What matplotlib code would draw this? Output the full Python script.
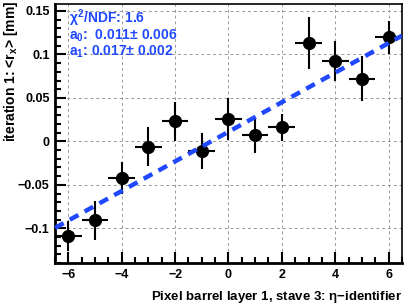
import matplotlib
matplotlib.use("Agg")
import matplotlib.pyplot as plt
import numpy as np
from matplotlib.ticker import MultipleLocator

eta = [-6, -5, -4, -3, -2, -1, 0, 1, 2, 3, 4, 5, 6]
rx = [-0.109, -0.091, -0.042, -0.006, 0.023, -0.011, 0.026, 0.007, 0.016, 0.1135, 0.092, 0.072, 0.120]
rx_err = [0.017, 0.022, 0.018, 0.022, 0.022, 0.021, 0.024, 0.020, 0.016, 0.030, 0.023, 0.026, 0.019]
eta_err = 0.5
a0 = 0.011
a1 = 0.017
fit_text = ['$\\chi^2$/NDF: 1.6',
            'a$_0$:  0.011$\\pm$ 0.006',
            'a$_1$: 0.017$\\pm$ 0.002']

blue = '#1f48ff'


def main():
    plt.rcParams['font.family'] = ['Liberation Sans', 'DejaVu Sans']
    plt.rcParams['font.weight'] = 'bold'
    plt.rcParams['axes.labelweight'] = 'bold'
    plt.rcParams['mathtext.fontset'] = 'custom'
    plt.rcParams['mathtext.rm'] = 'Liberation Sans:bold'
    plt.rcParams['mathtext.it'] = 'Liberation Sans:bold'
    plt.rcParams['mathtext.bf'] = 'Liberation Sans:bold'
    plt.rcParams['mathtext.sf'] = 'Liberation Sans:bold'

    fig = plt.figure(figsize=(4.08, 3.07), dpi=100)
    ax = fig.add_axes([0.135, 0.143, 0.85, 0.844])

    ax.errorbar(eta, rx, yerr=rx_err, xerr=eta_err, fmt='o', color='black',
                markersize=8.5, elinewidth=1.5, capsize=0, zorder=3)

    xs = np.array([-6.5, 6.5])
    ax.plot(xs, a0 + a1 * xs, color=blue, linestyle=(0, (2.2, 1.6)), linewidth=3.2, zorder=4)

    ax.set_xlim(-6.5, 6.5)
    ax.set_ylim(-0.14, 0.158)
    ax.xaxis.set_minor_locator(MultipleLocator(0.5))
    ax.yaxis.set_minor_locator(MultipleLocator(0.01))
    ax.set_yticks([-0.1, -0.05, 0, 0.05, 0.1, 0.15])
    ax.set_yticklabels(['\u22120.1', '\u22120.05', '0', '0.05', '0.1', '0.15'])
    ax.set_xticks([-6, -4, -2, 0, 2, 4, 6])
    ax.set_xticklabels(['\u22126', '\u22124', '\u22122', '0', '2', '4', '6'])

    ax.tick_params(which='major', direction='in', length=8, width=1.5, labelsize=9, pad=4)
    ax.tick_params(which='minor', direction='in', length=4, width=1.5)
    ax.tick_params(top=False, right=False, which='both')

    ax.grid(True, which='major', color='#999999', linestyle=(0, (3, 3)), linewidth=0.7)
    ax.set_axisbelow(True)

    for s in ['left', 'bottom']:
        ax.spines[s].set_linewidth(2)
    for s in ['top', 'right']:
        ax.spines[s].set_linewidth(1.2)

    fig.text(11 / 408, 1 - 1 / 307, 'iteration 1: <r$_x$> [mm]', rotation=90,
             ha='center', va='top', fontsize=10, fontweight='bold')
    fig.text(402 / 408, 1 - 297 / 307, 'Pixel barrel layer 1, stave 3: $\\eta$\u2212identifier',
             ha='right', va='center', fontsize=9.5, fontweight='bold')

    for i, t in enumerate(fit_text):
        ax.text(0.04, 0.925 - i * 0.063, t, transform=ax.transAxes, color=blue,
                fontsize=10, va='baseline', ha='left')

    fig.savefig('out.png', dpi=100)


if __name__ == "__main__":
    main()
